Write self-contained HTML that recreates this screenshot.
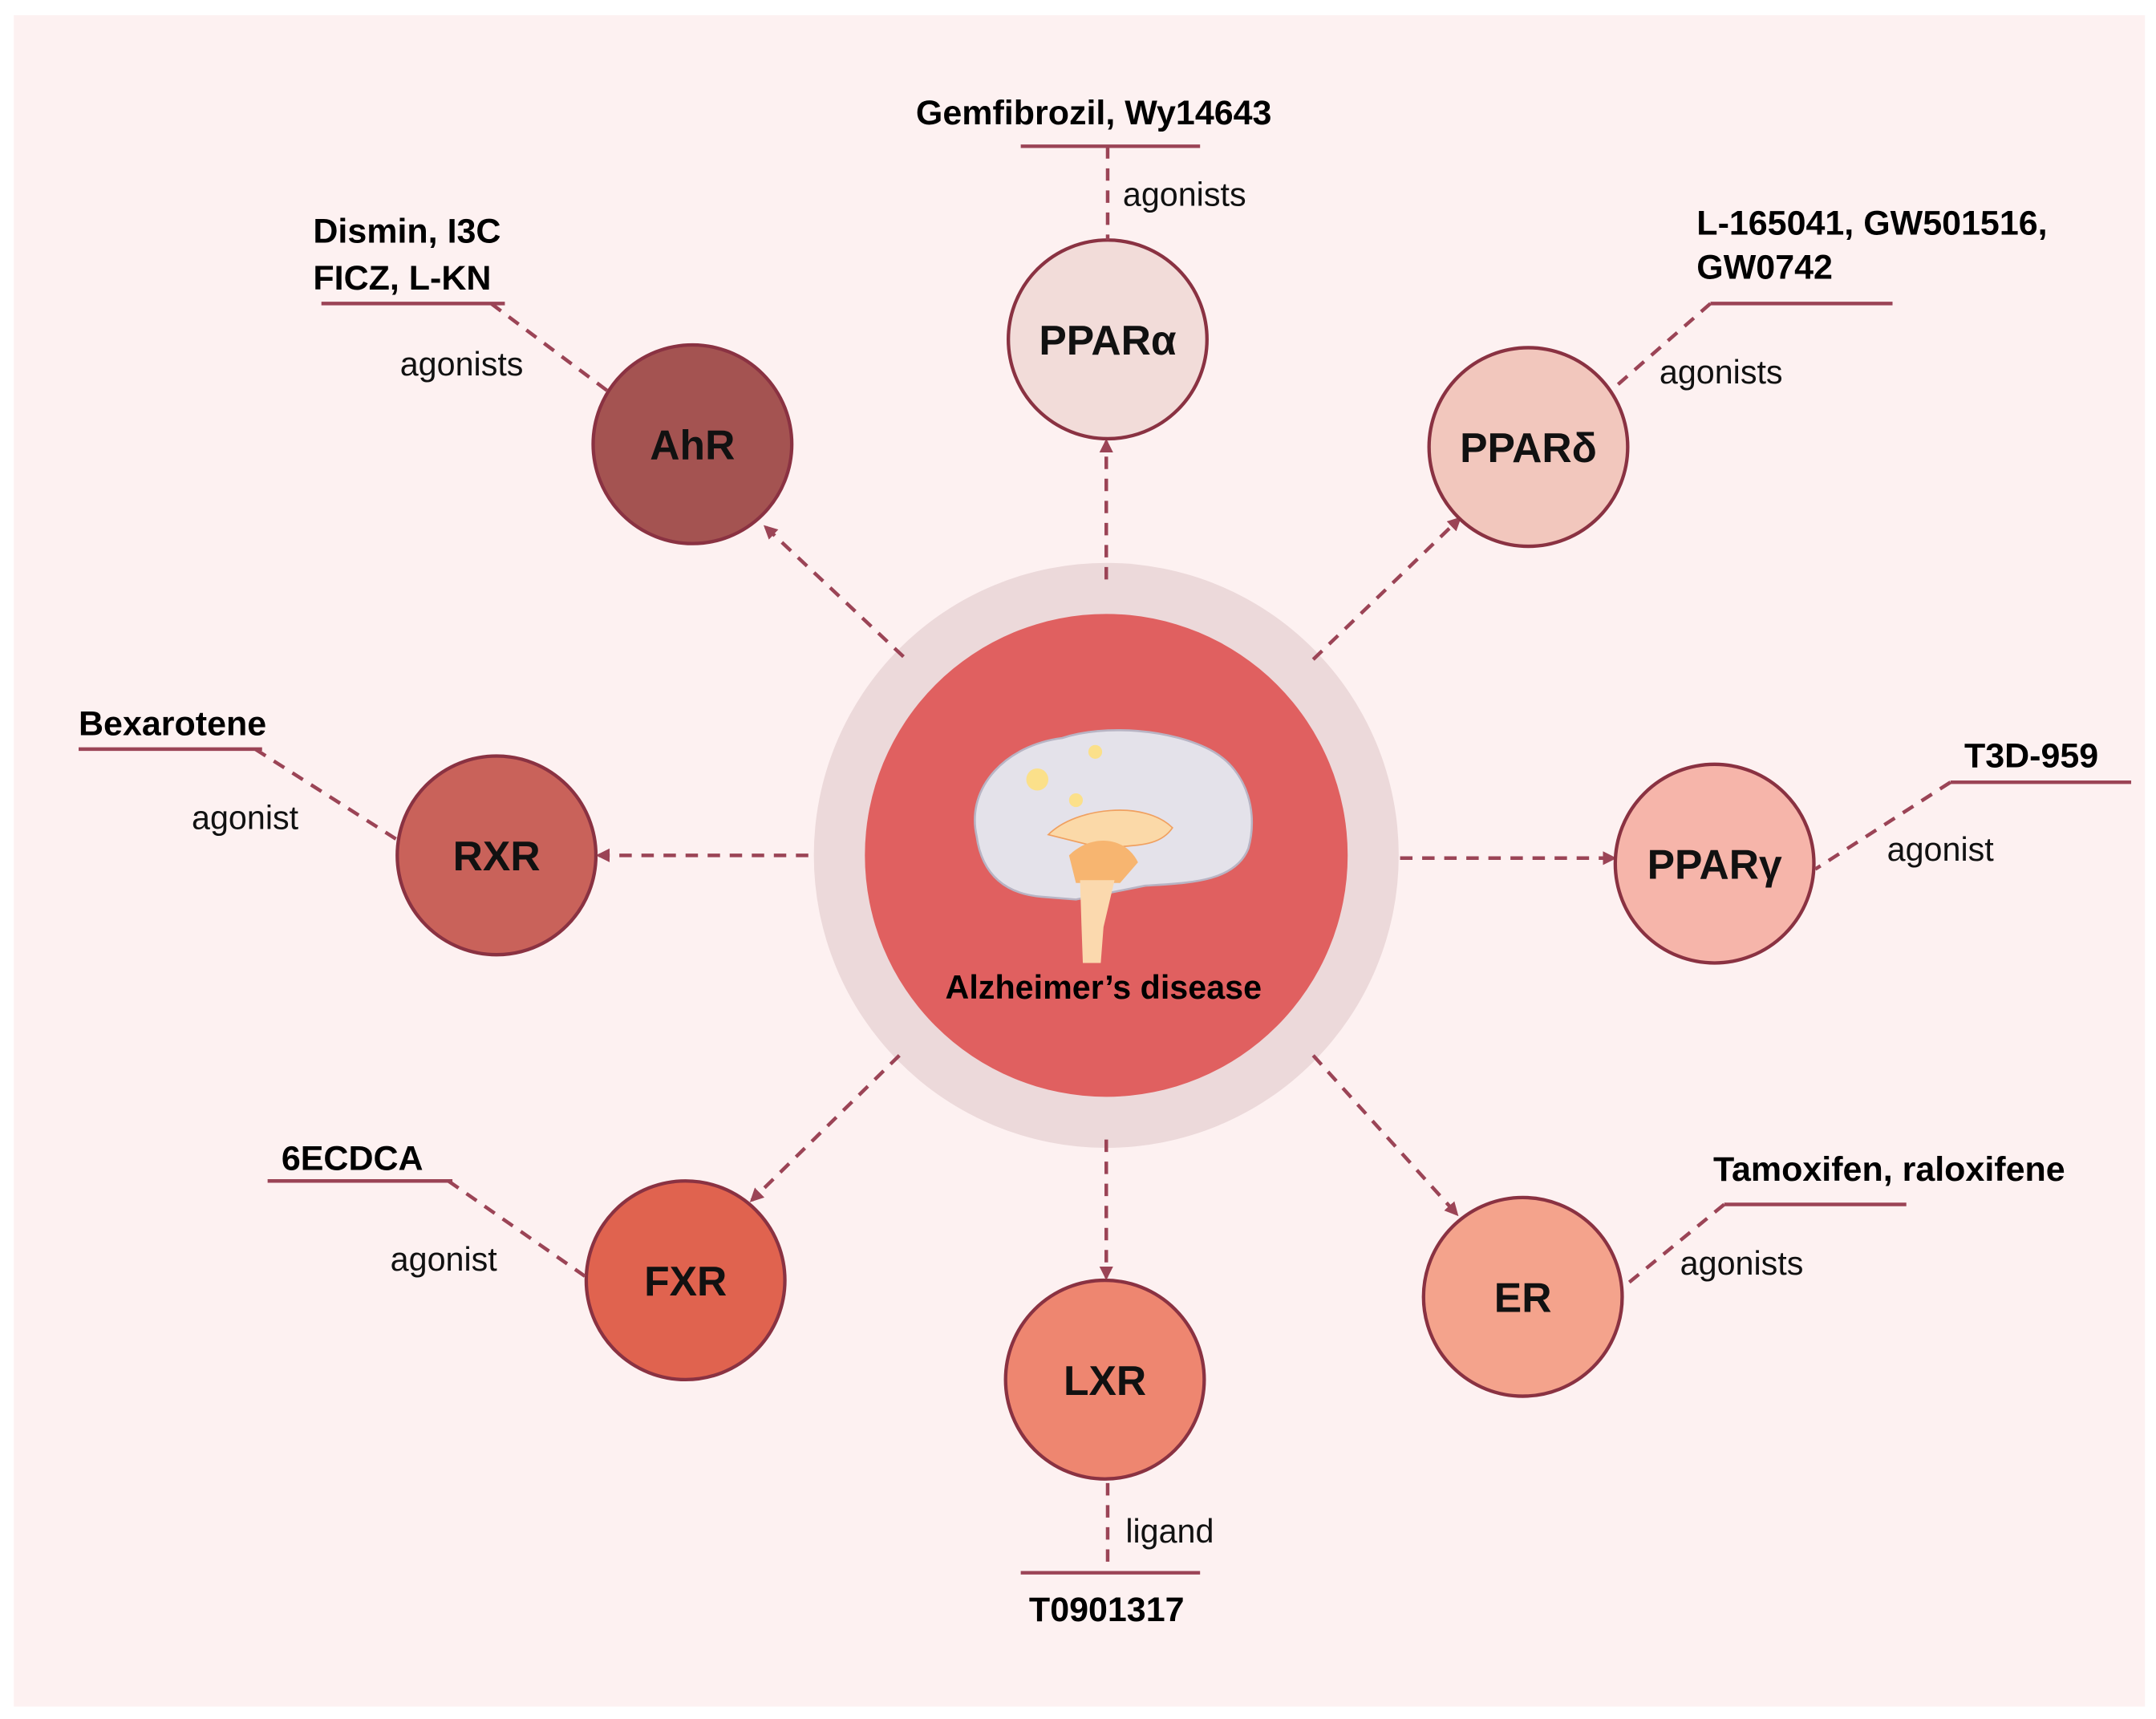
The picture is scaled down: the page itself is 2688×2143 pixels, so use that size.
<!DOCTYPE html>
<html><head><meta charset="utf-8"><style>
html,body{margin:0;padding:0;background:#fff;}
svg{display:block;}
text{font-family:"Liberation Sans",sans-serif;}
.b{font-weight:bold;font-size:25px;fill:#000;}
.n{font-size:24px;fill:#111;}
.nd{font-weight:bold;font-size:30px;fill:#111;text-anchor:middle;}
.d{stroke:#9b4456;stroke-width:2.6;stroke-dasharray:9 7;fill:none;}
.u{stroke:#9b4456;stroke-width:2.6;fill:none;}
.c{stroke:#8a3242;stroke-width:2.5;}
</style></head><body>
<svg width="2688" height="2143" viewBox="0 0 1563 1246" preserveAspectRatio="none" xmlns="http://www.w3.org/2000/svg">
<defs><marker id="a" markerWidth="10" markerHeight="10" refX="8" refY="5" orient="auto" markerUnits="userSpaceOnUse"><path d="M0,0 L10,5 L0,10 Z" fill="#9b4456"/></marker></defs>
<rect x="0" y="0" width="1563" height="1246" fill="#fff"/>
<rect x="10" y="11" width="1545" height="1226" fill="#fdf1f1"/>
<!-- center -->
<circle cx="802" cy="620" r="212" fill="#ecd9da"/>
<circle cx="802" cy="620" r="175" fill="#e06060"/>
<!-- brain -->
<g>
<path d="M708,606 C700,570 730,540 770,535 C800,525 850,528 880,545 C905,560 912,590 905,615 C895,640 860,640 830,642 L780,652 L755,650 C730,648 712,635 708,606 Z" fill="#e4e2ea" stroke="#b8b4c4" stroke-width="1.5"/>
<path d="M760,605 C780,585 830,580 850,600 C840,615 820,612 800,615 Z" fill="#fbd9a8" stroke="#f0a060"/>
<path d="M775,620 C790,605 815,605 825,625 L812,640 L780,640 Z" fill="#f7b570"/>
<path d="M783,638 L808,638 L800,672 L798,698 L785,698 L784,670 Z" fill="#fbd9ae"/>
<circle cx="752" cy="565" r="8" fill="#fbe08a"/>
<circle cx="794" cy="545" r="5" fill="#fbe08a"/>
<circle cx="780" cy="580" r="5" fill="#fbe08a"/>
</g>
<text x="800" y="724" class="b" text-anchor="middle" style="font-size:24px">Alzheimer’s disease</text>
<!-- arrows from center -->
<line class="d" x1="802" y1="420" x2="802" y2="320" marker-end="url(#a)"/>
<line class="d" x1="655" y1="476" x2="555" y2="382" marker-end="url(#a)"/>
<line class="d" x1="952" y1="478" x2="1058" y2="376" marker-end="url(#a)"/>
<line class="d" x1="586" y1="620" x2="434" y2="620" marker-end="url(#a)"/>
<line class="d" x1="1015" y1="622" x2="1170" y2="622" marker-end="url(#a)"/>
<line class="d" x1="652" y1="765" x2="545" y2="870" marker-end="url(#a)"/>
<line class="d" x1="802" y1="826" x2="802" y2="926" marker-end="url(#a)"/>
<line class="d" x1="952" y1="765" x2="1056" y2="880" marker-end="url(#a)"/>
<!-- nodes -->
<circle class="c" cx="502" cy="322" r="72" fill="#a45351"/><text class="nd" x="502" y="333">AhR</text>
<circle class="c" cx="803" cy="246" r="72" fill="#f2dcd9"/><text class="nd" x="803" y="257">PPARα</text>
<circle class="c" cx="1108" cy="324" r="72" fill="#f2c7bd"/><text class="nd" x="1108" y="335">PPARδ</text>
<circle class="c" cx="360" cy="620" r="72" fill="#c9625a"/><text class="nd" x="360" y="631">RXR</text>
<circle class="c" cx="1243" cy="626" r="72" fill="#f6b5aa"/><text class="nd" x="1243" y="637">PPARγ</text>
<circle class="c" cx="497" cy="928" r="72" fill="#e0634f"/><text class="nd" x="497" y="939">FXR</text>
<circle class="c" cx="801" cy="1000" r="72" fill="#ee8670"/><text class="nd" x="801" y="1011">LXR</text>
<circle class="c" cx="1104" cy="940" r="72" fill="#f4a38c"/><text class="nd" x="1104" y="951">ER</text>
<!-- label connectors -->
<line class="u" x1="740" y1="106" x2="870" y2="106"/><line class="d" x1="803" y1="106" x2="803" y2="174"/>
<text class="b" x="664" y="90">Gemfibrozil, Wy14643</text><text class="n" x="814" y="149">agonists</text>
<line class="u" x1="233" y1="220" x2="366" y2="220"/><line class="d" x1="356" y1="220" x2="440" y2="283"/>
<text class="b" x="227" y="176">Dismin, I3C</text><text class="b" x="227" y="210">FICZ, L-KN</text><text class="n" x="290" y="272">agonists</text>
<line class="u" x1="1240" y1="220" x2="1372" y2="220"/><line class="d" x1="1240" y1="220" x2="1168" y2="283"/>
<text class="b" x="1230" y="170">L-165041, GW501516,</text><text class="b" x="1230" y="202">GW0742</text><text class="n" x="1203" y="278">agonists</text>
<line class="u" x1="57" y1="543" x2="190" y2="543"/><line class="d" x1="185" y1="543" x2="290" y2="610"/>
<text class="b" x="57" y="533">Bexarotene</text><text class="n" x="139" y="601">agonist</text>
<line class="u" x1="1414" y1="567" x2="1545" y2="567"/><line class="d" x1="1414" y1="567" x2="1316" y2="630"/>
<text class="b" x="1424" y="556">T3D-959</text><text class="n" x="1368" y="624">agonist</text>
<line class="u" x1="194" y1="856" x2="328" y2="856"/><line class="d" x1="325" y1="856" x2="424" y2="925"/>
<text class="b" x="204" y="848">6ECDCA</text><text class="n" x="283" y="921">agonist</text>
<line class="u" x1="740" y1="1140" x2="870" y2="1140"/><line class="d" x1="803" y1="1075" x2="803" y2="1140"/>
<text class="b" x="746" y="1175">T0901317</text><text class="n" x="816" y="1118">ligand</text>
<line class="u" x1="1250" y1="873" x2="1382" y2="873"/><line class="d" x1="1250" y1="873" x2="1178" y2="932"/>
<text class="b" x="1242" y="856">Tamoxifen, raloxifene</text><text class="n" x="1218" y="924">agonists</text>
</svg>
</body></html>
